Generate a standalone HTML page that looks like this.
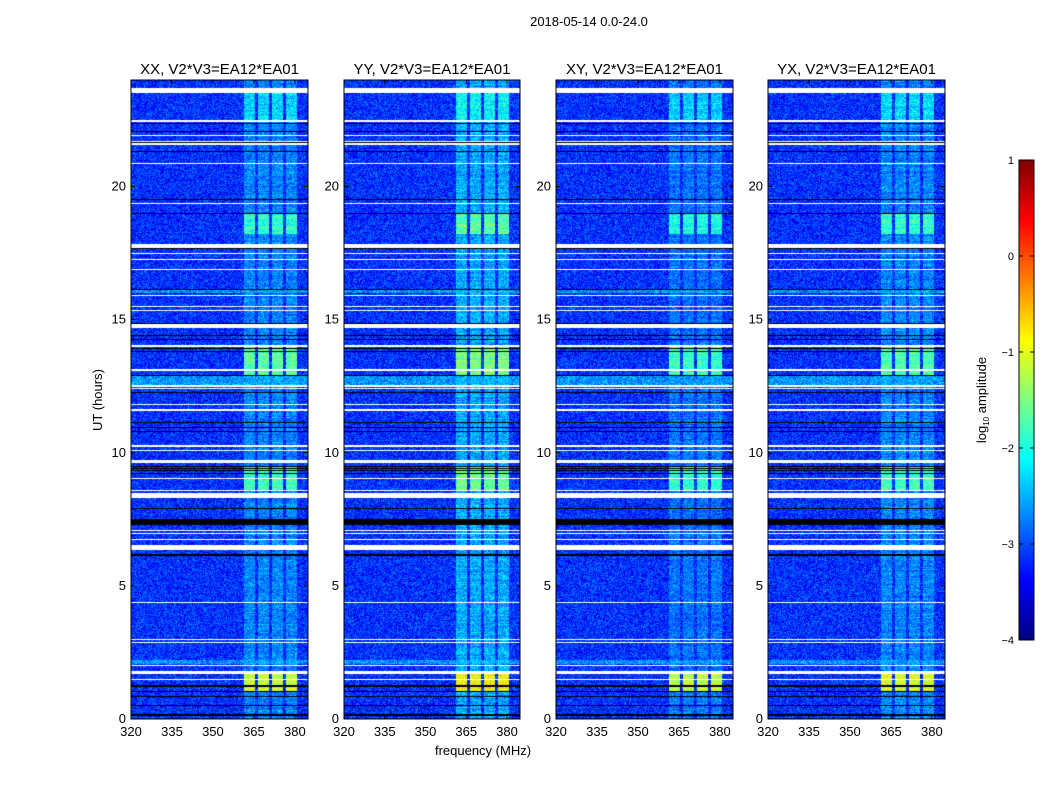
<!DOCTYPE html>
<html><head><meta charset="utf-8">
<style>
body{margin:0;background:#fff;width:1050px;height:800px;overflow:hidden;position:relative;font-family:"Liberation Sans",sans-serif;}
canvas{position:absolute;}
svg{position:absolute;left:0;top:0;}
</style></head>
<body>
<canvas id="p0" style="left:131px;top:80px" width="177" height="639"></canvas>
<canvas id="p1" style="left:344px;top:80px" width="176" height="639"></canvas>
<canvas id="p2" style="left:556px;top:80px" width="177" height="639"></canvas>
<canvas id="p3" style="left:768px;top:80px" width="177" height="639"></canvas>
<canvas id="cb" style="left:1019px;top:160px" width="15" height="480"></canvas>
<svg id="ax" width="1050" height="800"></svg>
<script>
// ---- data ----
const titles = ["XX, V2*V3=EA12*EA01","YY, V2*V3=EA12*EA01","XY, V2*V3=EA12*EA01","YX, V2*V3=EA12*EA01"];
const xTicks = [320,335,350,365,380];
const yTicks = [0,5,10,15,20];
const cbTicks = [1,0,-1,-2,-3,-4];
const panelGain = [0.0, 0.2, -0.1, 0.0];
const whiteRows = [[23.5,23.7],[22.42,22.48],[21.88,21.93],[21.55,21.7],[20.85,20.9],[19.33,19.38],[17.7,17.85],[17.45,17.5],[17.23,17.28],[16.85,16.9],[15.88,15.93],[15.48,15.53],[15.33,15.38],[14.7,14.85],[13.98,14.03],[13.08,13.13],[12.48,12.53],[12.38,12.42],[11.78,11.83],[11.58,11.63],[10.23,10.28],[10.06,10.1],[9.67,9.71],[9.61,9.65],[9.01,9.05],[8.57,8.61],[8.3,8.5],[7.07,7.11],[6.95,6.99],[6.73,6.77],[6.35,6.53],[4.34,4.38],[2.96,3.0],[2.84,2.88],[2.0,2.04],[1.68,1.81],[1.48,1.52]];
const blackRows = [[22.35,22.39],[22.03,22.07],[21.63,21.67],[21.28,21.32],[19.48,19.52],[18.98,19.02],[17.65,17.69],[16.11,16.15],[14.83,14.87],[14.38,14.42],[14.25,14.29],[13.88,13.92],[13.78,13.82],[12.88,12.92],[12.25,12.29],[11.11,11.15],[10.94,10.98],[10.78,10.82],[9.48,9.52],[9.4,9.44],[9.3,9.34],[9.2,9.24],[7.88,7.92],[7.27,7.53],[6.13,6.2],[1.22,1.26],[1.03,1.07],[0.84,0.88],[0.5,0.54],[0.13,0.17]];
const rfiColumns = [[361.2,365.3],[366.5,370.4],[371.6,375.6],[376.8,380.6]];
const rfiBands = [[1.0,1.8,-1.1],[12.9,14.0,-1.7],[18.2,19.0,-1.9],[8.6,9.5,-1.8],[22.5,23.5,-2.3],[0,24,-2.75]];
const cyanRows = [[16.0,16.1],[12.55,12.88],[2.05,2.2]];
const background = -3.15;
// ---- scales ----
const X0=320, X1=384.8, H=639, T0=80;
function jet(v){
  let t=(v+4)/5; t=Math.max(0,Math.min(1,t));
  const r=Math.max(0,Math.min(1,1.5-Math.abs(4*t-3)));
  const g=Math.max(0,Math.min(1,1.5-Math.abs(4*t-2)));
  const b=Math.max(0,Math.min(1,1.5-Math.abs(4*t-1)));
  return [r*255|0,g*255|0,b*255|0];
}
function hash(a,b,c){let h=(a*374761393+b*668265263+c*2147483647)|0;h=(h^(h>>>13))*1274126177|0;return ((h^(h>>>16))>>>0)/4294967296;}
function inRows(arr,h){for(const r of arr) if(h>=r[0]&&h<=r[1]) return true;return false;}
[0,1,2,3].forEach(p=>{
  const c=document.getElementById('p'+p),W=c.width,ctx=c.getContext('2d');
  const img=ctx.createImageData(W,H);
  for(let y=0;y<H;y++){
    const h=24*(1-(y+0.5)/H);
    const white=inRows(whiteRows,h), black=inRows(blackRows,h), cyan=inRows(cyanRows,h);
    const rowJit=(hash(y,p,3)-0.5)*0.3;
    for(let x=0;x<W;x++){
      const f=X0+(X1-X0)*(x+0.5)/W;
      let v=background+(hash(x,y,p)-0.5)*0.9;
      if(cyan) v+=0.5;
      let col=false;for(const cr of rfiColumns) if(f>=cr[0]&&f<=cr[1]) col=true;
      if(col){for(const b of rfiBands){ if(h>=b[0]&&h<=b[1]){ v=Math.max(v,b[2]+panelGain[p]+rowJit+(hash(x,y,p+7)-0.5)*0.8); break; }}}
      let rgb=jet(v);
      if(white) rgb=[255,255,255];
      if(black) rgb=[0,0,0];
      const i=(y*W+x)*4;img.data[i]=rgb[0];img.data[i+1]=rgb[1];img.data[i+2]=rgb[2];img.data[i+3]=255;
    }
  }
  ctx.putImageData(img,0,0);
});
(function(){const c=document.getElementById('cb'),ctx=c.getContext('2d');
  for(let y=0;y<480;y++){const v=1-5*(y+0.5)/480;const r=jet(v);ctx.fillStyle=`rgb(${r[0]},${r[1]},${r[2]})`;ctx.fillRect(0,y,15,1);} })();
// ---- axes ----
const svg=document.getElementById('ax'),NS='http://www.w3.org/2000/svg';
function el(t,a,txt){const e=document.createElementNS(NS,t);for(const k in a)e.setAttribute(k,a[k]);if(txt!==undefined)e.textContent=txt;svg.appendChild(e);return e;}
const panelX=[[131,308],[344,520],[556,733],[768,945]];
panelX.forEach((px,p)=>{
  const L=px[0],R=px[1];
  const xs=f=>L+(f-X0)/(X1-X0)*(R-L);
  const ys=h=>T0+H-h/24*H;
  const fr=el('rect',{x:L,y:T0,width:R-L,height:H,fill:'none',stroke:'#000','stroke-width':1});
  
  const t=el('text',{x:(L+R)/2,y:74,'text-anchor':'middle','font-size':15},titles[p]);
  
  xTicks.forEach(v=>{const x=xs(v);
    el('line',{x1:x,x2:x,y1:T0+H,y2:T0+H-4,stroke:'#000'});el('line',{x1:x,x2:x,y1:T0,y2:T0+4,stroke:'#000'});
    const tl=el('text',{x:x,y:736,'text-anchor':'middle','font-size':13},v);
    });
  yTicks.forEach(v=>{const y=ys(v);
    el('line',{x1:L,x2:L+4,y1:y,y2:y,stroke:'#000'});el('line',{x1:R,x2:R-4,y1:y,y2:y,stroke:'#000'});
    const tl=el('text',{x:L-5,y:y+4,'text-anchor':'end','font-size':13},v);
    });
});
const st=el('text',{x:589,y:26,'text-anchor':'middle','font-size':13},'2018-05-14 0.0-24.0');

const xl=el('text',{x:483,y:755,'text-anchor':'middle','font-size':13},'frequency (MHz)');

const yl=el('text',{x:102,y:400,'text-anchor':'middle','font-size':13,transform:'rotate(-90 102 400)'},'UT (hours)');

el('rect',{x:1019,y:160,width:15,height:480,fill:'none',stroke:'#000'});
cbTicks.forEach(v=>{const y=160+(1-v)/5*480;
  el('line',{x1:1019,x2:1023,y1:y,y2:y,stroke:'#000'});el('line',{x1:1034,x2:1030,y1:y,y2:y,stroke:'#000'});
  const tl=el('text',{x:1014,y:y+4,'text-anchor':'end','font-size':11},v<0?'\u2212'+(-v):v);
  });
const cl=el('text',{x:986,y:400,'text-anchor':'middle','font-size':13,transform:'rotate(-90 986 400)'});

cl.innerHTML='log<tspan font-size="8" dy="3">10</tspan><tspan dy="-3"> amplitude</tspan>';
</script>
</body></html>
